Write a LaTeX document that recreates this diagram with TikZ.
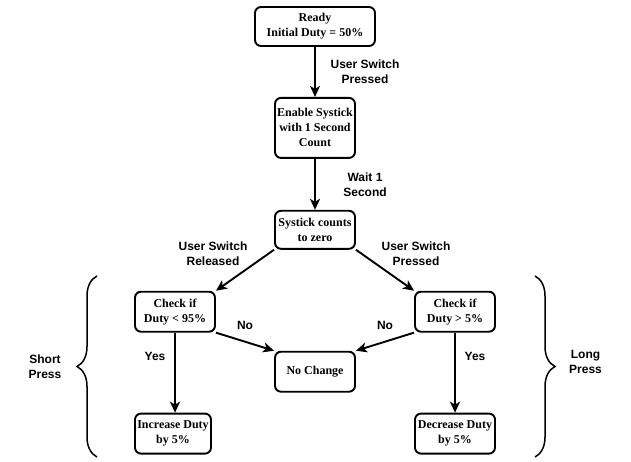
\documentclass[tikz,border=0pt]{standalone}
\usepackage{fontspec}
\setmainfont{Liberation Serif}
\newfontfamily\labelfont{Liberation Sans}
\usetikzlibrary{positioning, arrows.meta, decorations.pathreplacing}

\begin{document}
\begin{tikzpicture}[x=1pt, y=-1pt, line width=1.9pt, >={Stealth[length=11pt, width=10pt, inset=3pt]}]
	\tikzstyle{state}=[draw, rounded corners=6pt, align=center, minimum width=80pt, minimum height=40pt, inner sep=2pt, font=\fontsize{12}{15}\selectfont\bfseries]
	\tikzstyle{cond}=[align=center, font=\labelfont\fontsize{12}{15}\selectfont\bfseries]
	\tikzstyle{curly}=[decorate, decoration={brace, amplitude=20pt}, line width=1.5pt]
	
	\useasboundingbox (0,0) rectangle (631,462);
	
	\node[state, minimum width=120pt, minimum height=39pt] (ready) at (315,26.5) {Ready\\Initial Duty = 50\%};
	\node[state, minimum height=60pt, below=50pt of ready] (enable) {Enable Systick\\with 1 Second\\Count};
	\node[state, minimum height=38pt, below=51pt of enable] (count) {Systick counts\\to zero};
	\node[state, below=41pt of count, xshift=-140pt] (checkup) {Check if\\Duty < 95\%};
	\node[state, below=41pt of count, xshift=140pt] (checkdown) {Check if\\Duty > 5\%};
	\node[state, below=101pt of count] (nochange) {No Change};
	\node[state, minimum width=76pt, below=80pt of checkup, xshift=-2pt] (increase) {Increase Duty\\by 5\%};
	\node[state, below=80pt of checkdown] (decrease) {Decrease Duty\\by 5\%};
	
	\draw[->] (ready) -- node[cond, xshift=50pt] {User Switch\\Pressed} (enable);
	\draw[->] (enable) -- node[cond, xshift=50pt] {Wait 1\\Second} (count);
	\draw[->] (count.south west) -- node[cond, xshift=-32pt, yshift=17pt] {User Switch\\Released} (checkup.north east);
	\draw[->] (count.south east) -- node[cond, xshift=31pt, yshift=17pt] {User Switch\\Pressed} (checkdown.north west);
	\draw[->] (checkup.south east) -- node[cond, yshift=16pt] {No} (nochange.north west);
	\draw[->] (checkdown.south west) -- node[cond, yshift=16pt] {No} (nochange.north east);
	\draw[->] (checkup) -- node[cond, xshift=-20pt, yshift=16pt] {Yes} (checkup.south |- increase.north);
	\draw[->] (checkdown) -- node[cond, xshift=20pt, yshift=16pt] {Yes} (decrease);
	
	\draw[curly] (97,457) -- (97,276);
	\draw[curly] (535,276) -- (535,457);
	\node[cond] (short) at (45,366.5) {Short\\Press};
	\node[cond] (long) at (585.5,361.5) {Long\\Press};
\end{tikzpicture}
\end{document}
